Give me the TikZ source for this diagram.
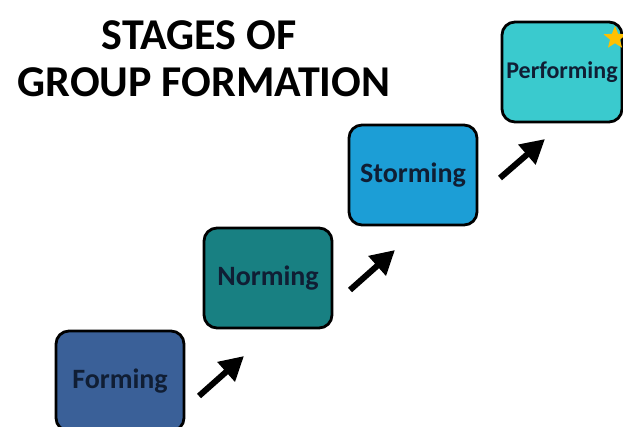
\documentclass[tikz,border=0pt]{standalone}
\usepackage{fontspec}
\setmainfont{Carlito}
\usetikzlibrary{arrows.meta,shapes.geometric}
\definecolor{cForm}{RGB}{58,96,152}
\definecolor{cNorm}{RGB}{24,128,130}
\definecolor{cStorm}{RGB}{28,158,214}
\definecolor{cPerf}{RGB}{58,202,206}
\definecolor{txt}{RGB}{16,30,52}
\definecolor{gold}{RGB}{255,192,0}
\tikzset{
  stagebox/.style={draw=black, line width=2.8pt, rounded corners=13pt,
    minimum width=128pt, minimum height=100pt, inner sep=0pt,
    text=txt, font=\bfseries\fontsize{28}{30}\selectfont},
  stagearrow/.style={line width=6pt, -{Triangle[length=24pt,width=25pt]}},
  titletext/.style={font=\bfseries\fontsize{44}{47}\selectfont, text=black, anchor=base, inner sep=0pt}
}
\begin{document}
\begin{tikzpicture}[x=1pt,y=-1pt]
  \useasboundingbox (0,0) rectangle (623,427);
  \clip (0,0) rectangle (623,427);
  \node[titletext] (title1) at (199,50) {STAGES OF};
  \node[titletext] (title2) at (204,97) {GROUP FORMATION};
  \node[stagebox, fill=cForm] (forming) at (120,381) {Forming};
  \node[stagebox, fill=cNorm] (norming) at (268,278) {Norming};
  \node[stagebox, fill=cStorm] (storming) at (413,175) {Storming};
  \node[stagebox, fill=cPerf, minimum width=120pt, font=\bfseries\fontsize{24}{26}\selectfont] (performing) at (562,72) {Performing};
  \node[star, star points=5, star point ratio=2.3, fill=gold, minimum size=24pt, inner sep=0pt] (star) at (615,38) {};
  \coordinate (a1s) at (199,396);
  \coordinate (a1e) at (244,356);
  \coordinate (a2s) at (350,290);
  \coordinate (a2e) at (395,250);
  \coordinate (a3s) at (500,178);
  \coordinate (a3e) at (545,139);
  \draw[stagearrow] (a1s) -- (a1e);
  \draw[stagearrow] (a2s) -- (a2e);
  \draw[stagearrow] (a3s) -- (a3e);
\end{tikzpicture}
\end{document}
